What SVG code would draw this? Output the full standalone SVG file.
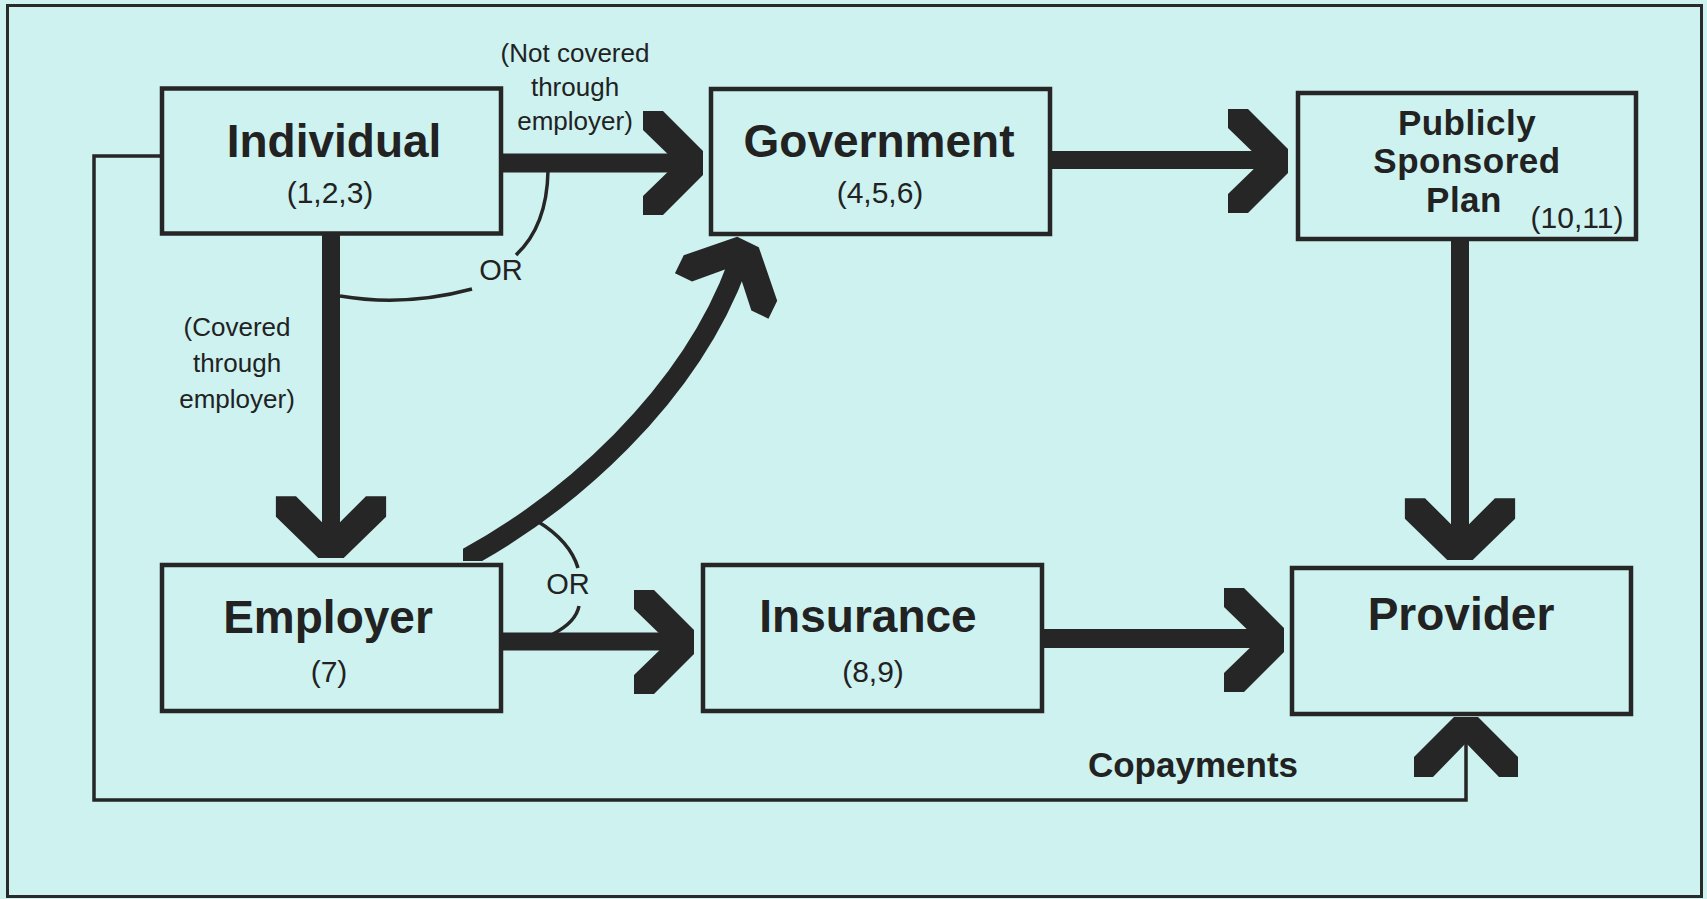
<svg xmlns="http://www.w3.org/2000/svg" width="1707" height="899" viewBox="0 0 1707 899">
<style>
.bg{fill:#cdf2f0}
.frame{fill:none;stroke:#2a2a2a;stroke-width:3}
.box{fill:none;stroke:#262626;stroke-width:4.5}
.shaft{stroke:#262626;stroke-linecap:butt;fill:none}
.thin{stroke:#262626;stroke-width:3.5;fill:none}
.head{fill:#262626}
.title{font-family:"Liberation Sans",Arial,sans-serif;font-weight:bold;font-size:46px;fill:#222;text-anchor:middle}
.num{font-family:"Liberation Sans",Arial,sans-serif;font-size:30px;fill:#222;text-anchor:middle}
.lbl{font-family:"Liberation Sans",Arial,sans-serif;font-size:26px;fill:#222;text-anchor:middle}
.or{font-family:"Liberation Sans",Arial,sans-serif;font-size:29px;fill:#222;text-anchor:middle}
.psp{font-family:"Liberation Sans",Arial,sans-serif;font-weight:bold;font-size:35px;fill:#222;text-anchor:middle;letter-spacing:0.5px}
.copay{font-family:"Liberation Sans",Arial,sans-serif;font-weight:bold;font-size:35px;fill:#222;text-anchor:middle}
</style>
<defs>
<path id="chev" d="M -60,-52 L -40,-52 L 0,-12 L 0,12 L -40,52 L -60,52 L -60,33 L -26,0 L -60,-33 Z"/>
<clipPath id="curveClip"><rect x="463" y="0" width="400" height="561"/></clipPath>
</defs>
<rect class="bg" x="0" y="0" width="1707" height="899"/>
<rect class="frame" x="7.5" y="5.5" width="1694" height="891"/>

<g id="connectors">
  <!-- Individual -> Government -->
  <line class="shaft" x1="503" y1="163" x2="682" y2="163" stroke-width="19"/>
  <use href="#chev" class="head" transform="translate(703,163)"/>
  <!-- Government -> Publicly Sponsored Plan -->
  <line class="shaft" x1="1052" y1="160" x2="1266" y2="160" stroke-width="18"/>
  <use href="#chev" class="head" transform="translate(1288,161)"/>
  <!-- Individual -> Employer -->
  <line class="shaft" x1="331" y1="235" x2="331" y2="536" stroke-width="18"/>
  <use href="#chev" class="head" transform="translate(331,558) rotate(90) scale(1.03,1.06)"/>
  <!-- Publicly Sponsored Plan -> Provider -->
  <line class="shaft" x1="1460" y1="241" x2="1460" y2="538" stroke-width="18"/>
  <use href="#chev" class="head" transform="translate(1460,560) rotate(90) scale(1.03,1.06)"/>
  <!-- Employer -> Insurance -->
  <line class="shaft" x1="503" y1="641.5" x2="672" y2="641.5" stroke-width="18"/>
  <use href="#chev" class="head" transform="translate(694,642)"/>
  <!-- Insurance -> Provider -->
  <line class="shaft" x1="1044" y1="638.5" x2="1262" y2="638.5" stroke-width="19"/>
  <use href="#chev" class="head" transform="translate(1284,640)"/>
  <!-- Employer -> Government (curved) -->
  <path class="shaft" clip-path="url(#curveClip)" d="M 452,566 C 570,505 690,395 738,264" stroke-width="20"/>
  <use href="#chev" class="head" transform="translate(748,242) rotate(-64)"/>
  <!-- Copayments feedback line -->
  <polyline class="thin" stroke-width="4" points="160,156 94,156 94,800 1466,800 1466,742"/>
  <use href="#chev" class="head" transform="translate(1466,717) rotate(-90)"/>
  <!-- OR arcs (upper) -->
  <path class="thin" d="M 548,171 Q 547,226 516,255"/>
  <path class="thin" d="M 340,296 Q 405,307 472,289"/>
  <!-- OR arcs (lower) -->
  <path class="thin" d="M 537,521 Q 570,541 578,568"/>
  <path class="thin" d="M 579,606 Q 576,622 553,634"/>
  <text class="or" x="501" y="280">OR</text>
  <text class="or" x="568" y="594">OR</text>
  <text class="lbl" x="575" y="62">(Not covered</text>
  <text class="lbl" x="575" y="96">through</text>
  <text class="lbl" x="575" y="130">employer)</text>
  <text class="lbl" x="237" y="336">(Covered</text>
  <text class="lbl" x="237" y="372">through</text>
  <text class="lbl" x="237" y="408">employer)</text>
  <text class="copay" x="1193" y="777">Copayments</text>
</g>

<g id="individual">
  <rect class="box" x="162" y="88.5" width="339" height="145"/>
  <text class="title" x="334" y="157">Individual</text>
  <text class="num" x="330" y="203">(1,2,3)</text>
</g>
<g id="government">
  <rect class="box" x="711" y="89" width="339" height="145"/>
  <text class="title" x="879" y="157">Government</text>
  <text class="num" x="880" y="203">(4,5,6)</text>
</g>
<g id="publicly-sponsored-plan">
  <rect class="box" x="1298" y="93" width="338" height="146"/>
  <text class="psp" x="1467" y="135">Publicly</text>
  <text class="psp" x="1467" y="173">Sponsored</text>
  <text class="psp" x="1464" y="212">Plan</text>
  <text class="num" x="1577" y="228">(10,11)</text>
</g>
<g id="employer">
  <rect class="box" x="162" y="565" width="339" height="146"/>
  <text class="title" x="328" y="633">Employer</text>
  <text class="num" x="329" y="682">(7)</text>
</g>
<g id="insurance">
  <rect class="box" x="703" y="565" width="339" height="146"/>
  <text class="title" x="868" y="632">Insurance</text>
  <text class="num" x="873" y="682">(8,9)</text>
</g>
<g id="provider">
  <rect class="box" x="1292" y="568" width="339" height="146"/>
  <text class="title" x="1461" y="630">Provider</text>
</g>
</svg>
